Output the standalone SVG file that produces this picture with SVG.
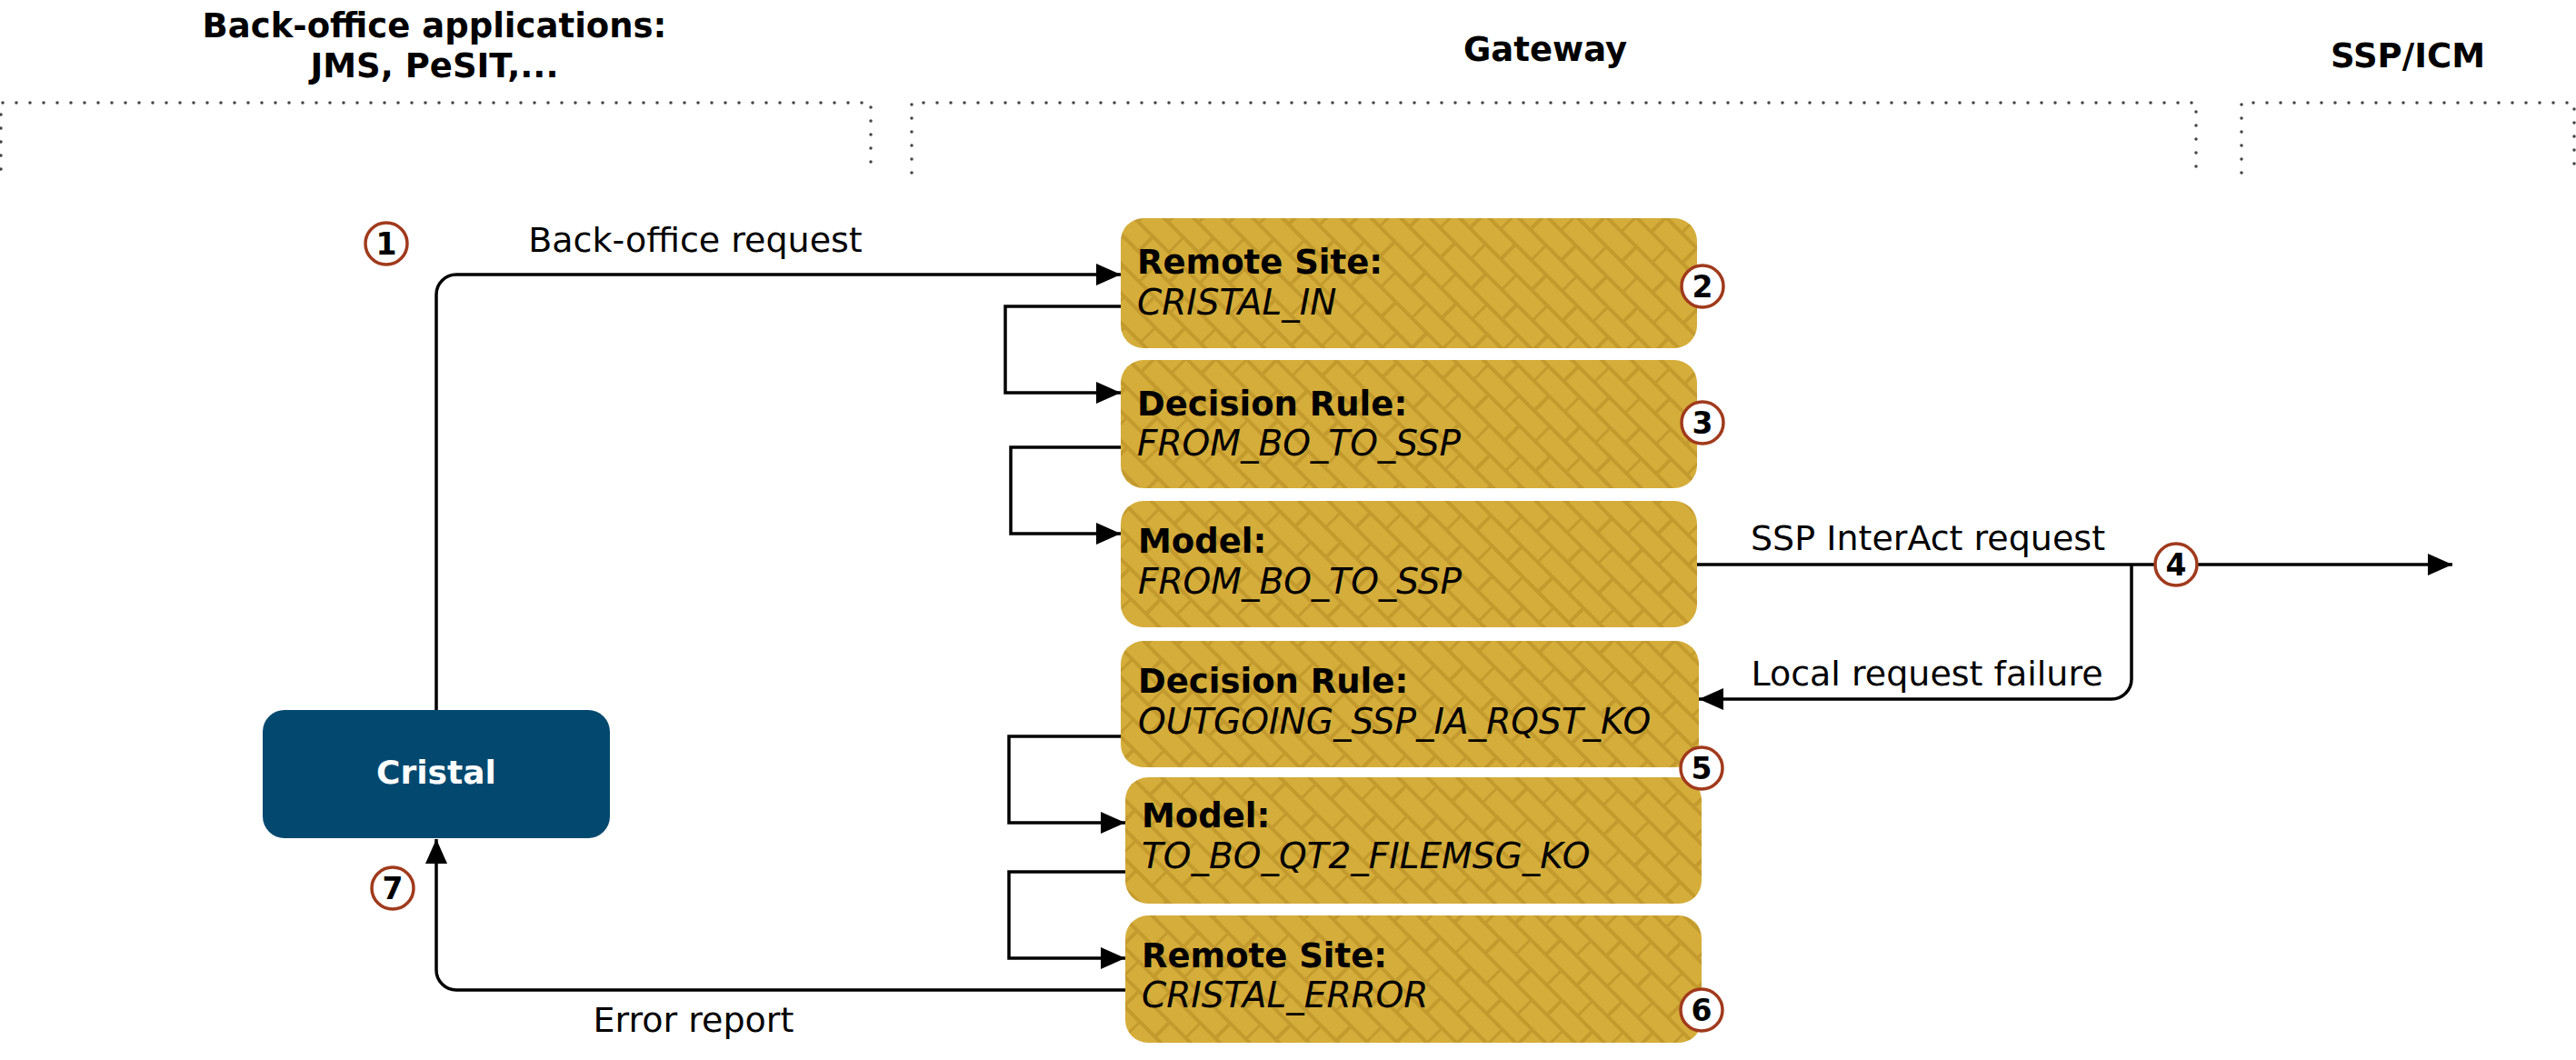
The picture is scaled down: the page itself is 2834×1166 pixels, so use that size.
<svg xmlns="http://www.w3.org/2000/svg" width="2834" height="1166" viewBox="0 0 2834 1166">
<style>
text{font-family:"DejaVu Sans","Verdana","Liberation Sans",sans-serif;fill:#000}
.hdr{font-size:37px;font-weight:bold;text-anchor:middle}
.lbl{font-size:38px;text-anchor:middle}
.t1{font-size:37px;font-weight:bold}
.t2{font-size:39px;font-style:italic}
.box{fill:url(#brick)}
.dot{fill:none;stroke:#444;stroke-width:3.5;stroke-linecap:round;stroke-dasharray:0 15}
.con{fill:none;stroke:#000;stroke-width:3.5}
.arr{marker-end:url(#ah)}
.step circle{fill:#fff;stroke:#A03A1C;stroke-width:3.5}
.step text{font-size:33px;font-weight:bold;text-anchor:middle}
</style>
<defs>
<pattern id="brick" patternUnits="userSpaceOnUse" width="48" height="46" patternTransform="rotate(45)">
<rect width="48" height="46" fill="#D5AD3A"/>
<path d="M0,0H48M0,23H48M0,46H48M1,0V23M25,23V46" stroke="#C39A2D" stroke-width="4" fill="none"/>
</pattern>
<marker id="ah" markerUnits="userSpaceOnUse" markerWidth="28" markerHeight="26" refX="27" refY="13" orient="auto">
<path d="M0,1L27,13L0,25z" fill="#000"/>
</marker>
</defs>

<g id="zones">
<path class="dot" d="M1,186V113H958V184"/>
<path class="dot" d="M1003,190V113H2416V190"/>
<path class="dot" d="M2466,190V113H2832V186"/>
<text class="hdr" x="478" y="41">Back-office applications:</text>
<text class="hdr" x="478" y="85">JMS, PeSIT,...</text>
<text class="hdr" x="1700" y="67">Gateway</text>
<text class="hdr" x="2649" y="74">SSP/ICM</text>
</g>

<g id="connectors">
<path class="con arr" d="M480,781V324A22,22 0 0 1 502,302H1233"/>
<path class="con arr" d="M1233,337H1106V432H1233"/>
<path class="con arr" d="M1233,492H1112V587H1233"/>
<path class="con arr" d="M1867,621H2698"/>
<path class="con arr" d="M2345,621V747A22,22 0 0 1 2323,769H1869"/>
<path class="con arr" d="M1233,810H1110V905H1238"/>
<path class="con arr" d="M1238,959H1110V1054H1238"/>
<path class="con arr" d="M1238,1089H502A22,22 0 0 1 480,1067V923"/>
<text class="lbl" x="765" y="277">Back-office request</text>
<text class="lbl" x="2121" y="605">SSP InterAct request</text>
<text class="lbl" x="2120" y="754">Local request failure</text>
<text class="lbl" x="763" y="1135">Error report</text>
</g>

<g id="cristal">
<rect x="289" y="781" width="382" height="141" rx="24" fill="#03496F"/>
<text x="480" y="862" style="font-size:36px;font-weight:bold;text-anchor:middle;fill:#fff">Cristal</text>
</g>

<g id="rs-cristal-in">
<rect class="box" x="1233" y="240" width="634" height="143" rx="25"/>
<text class="t1" x="1251" y="301">Remote Site:</text>
<text class="t2" x="1251" y="346">CRISTAL_IN</text>
</g>
<g id="dr-from-bo">
<rect class="box" x="1233" y="396" width="634" height="141" rx="25"/>
<text class="t1" x="1251" y="457">Decision Rule:</text>
<text class="t2" x="1251" y="501">FROM_BO_TO_SSP</text>
</g>
<g id="model-from-bo">
<rect class="box" x="1233" y="551" width="634" height="139" rx="25"/>
<text class="t1" x="1252" y="608">Model:</text>
<text class="t2" x="1252" y="653">FROM_BO_TO_SSP</text>
</g>
<g id="dr-outgoing">
<rect class="box" x="1233" y="705" width="636" height="139" rx="25"/>
<text class="t1" x="1252" y="762">Decision Rule:</text>
<text class="t2" x="1252" y="807">OUTGOING_SSP_IA_RQST_KO</text>
</g>
<g id="model-to-bo">
<rect class="box" x="1238" y="855" width="634" height="139" rx="25"/>
<text class="t1" x="1256" y="910">Model:</text>
<text class="t2" x="1256" y="955">TO_BO_QT2_FILEMSG_KO</text>
</g>
<g id="rs-cristal-error">
<rect class="box" x="1238" y="1007" width="634" height="140" rx="25"/>
<text class="t1" x="1256" y="1064">Remote Site:</text>
<text class="t2" x="1256" y="1108">CRISTAL_ERROR</text>
</g>

<g id="steps">
<g class="step"><circle cx="425" cy="268" r="23"/><text x="425" y="280">1</text></g>
<g class="step"><circle cx="1873" cy="315" r="23"/><text x="1873" y="327">2</text></g>
<g class="step"><circle cx="1873" cy="465" r="23"/><text x="1873" y="477">3</text></g>
<g class="step"><circle cx="2394" cy="621" r="23"/><text x="2394" y="633">4</text></g>
<g class="step"><circle cx="1872" cy="845" r="23"/><text x="1872" y="857">5</text></g>
<g class="step"><circle cx="1872" cy="1111" r="23"/><text x="1872" y="1123">6</text></g>
<g class="step"><circle cx="432" cy="977" r="23"/><text x="432" y="989">7</text></g>
</g>
</svg>
